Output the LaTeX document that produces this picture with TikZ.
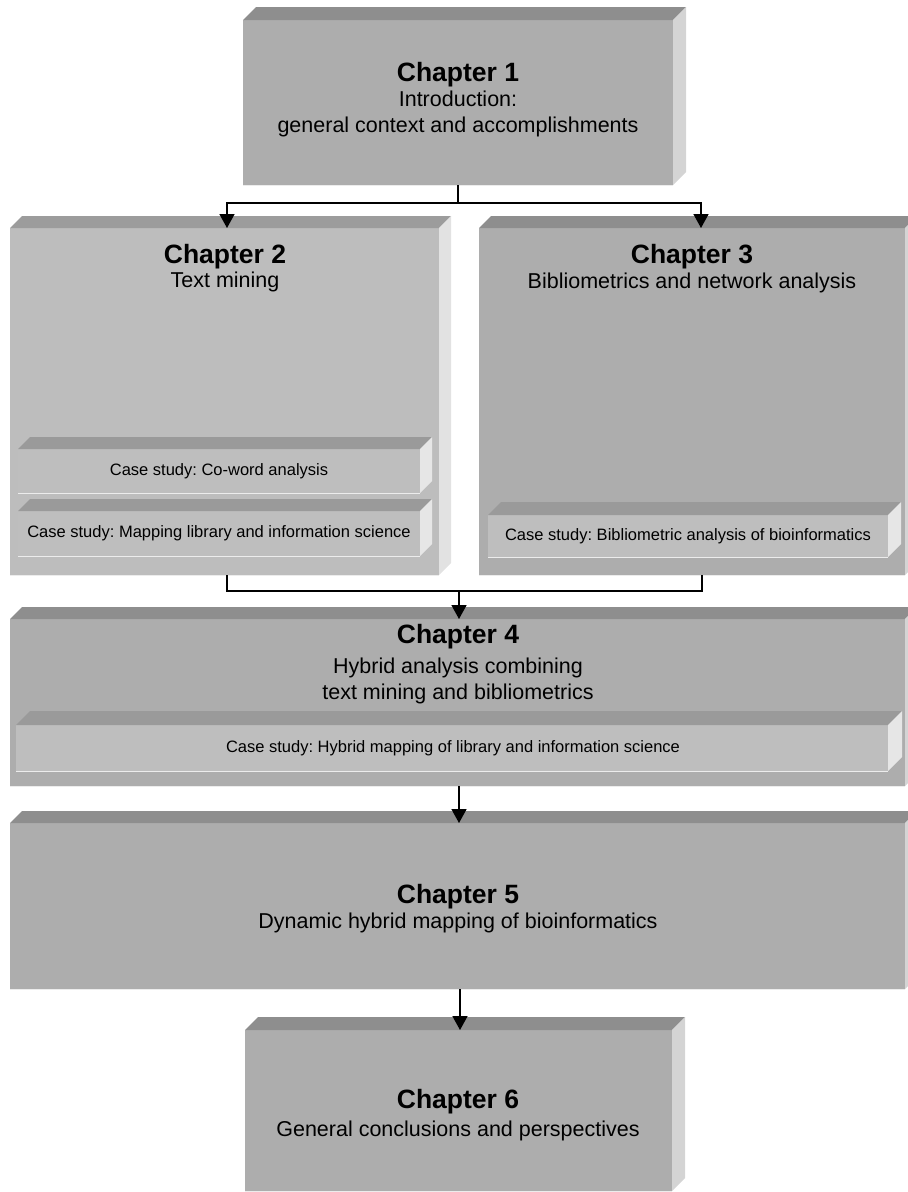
\documentclass[tikz,border=0pt]{standalone}
\usepackage{fontspec}
\setmainfont{Liberation Sans}
\usetikzlibrary{arrows.meta}
\frenchspacing

\tikzset{
  frontface/.style={fill=#1, draw=none, inner sep=0pt, outer sep=0pt, anchor=north west},
  link/.style={line width=1.6pt, draw=black},
  arr/.style={link, -{Triangle[width=15pt,length=14pt]}},
  title/.style={font=\fontsize{26.5}{30}\selectfont\bfseries, inner sep=0pt},
  sub/.style={font=\fontsize{21.5}{25.5}\selectfont, inner sep=0pt, align=center},
  case/.style={font=\fontsize{16.5}{20}\selectfont, inner sep=0pt},
  hilite/.style={draw=#1, line width=1.2pt},
}

% bevelled block: name, x, y, width, height, front, top, side, depth
\newcommand\cubebox[9]{%
  \node[frontface=#6, minimum width=#4pt, minimum height=#5pt] (#1) at (#2,#3) {};
  \fill[#7] (#1.north west) -- ++(#9,-#9) -- ([shift={(#9,-#9)}]#1.north east) -- (#1.north east) -- cycle;
  \fill[#8] (#1.north east) -- ++(#9,-#9) -- ([shift={(#9,-#9)}]#1.south east) -- (#1.south east) -- cycle;
  \draw[hilite=white!85!gray] ([yshift=-0.6pt]#1.south west) -- ([yshift=-0.6pt]#1.south east);
}

\definecolor{chfront}{HTML}{ADADAD}
\definecolor{chtop}{HTML}{8E8E8E}
\definecolor{chside}{HTML}{D4D4D4}
\definecolor{lfront}{HTML}{BDBDBD}
\definecolor{ltop}{HTML}{9C9C9C}
\definecolor{lside}{HTML}{E2E2E2}
\definecolor{csfront}{HTML}{BEBEBE}
\definecolor{cstop}{HTML}{9A9A9A}
\definecolor{csside}{HTML}{E6E6E6}

\begin{document}
\begin{tikzpicture}[x=1pt, y=-1pt]
  \useasboundingbox (0,0) rectangle (908,1192);
  \clip (0,0) rectangle (908,1192);

  % blocks
  \cubebox{ch1}{243}{20}{430}{165}{chfront}{chtop}{chside}{13}
  \cubebox{ch2}{10}{228}{429}{347}{lfront}{ltop}{lside}{12}
  \cubebox{ch3}{479}{228}{426}{347}{chfront}{chtop}{chside}{12}
  \cubebox{cs1}{18}{449}{402}{44}{csfront}{cstop}{csside}{12}
  \cubebox{cs2}{18}{511}{402}{45}{csfront}{cstop}{csside}{12}
  \cubebox{cs3}{488}{515}{400}{42}{csfront}{cstop}{csside}{13}
  \cubebox{ch4}{10}{619}{895}{167}{chfront}{chtop}{chside}{12}
  \cubebox{cs4}{16}{725}{872}{46}{csfront}{cstop}{csside}{14}
  \cubebox{ch5}{10}{823}{895}{166}{chfront}{chtop}{chside}{12}
  \cubebox{ch6}{245}{1030}{427}{161}{chfront}{chtop}{chside}{13}

  % labels
  \node[title] (t1) at (458,75) {Chapter 1};
  \node[sub] (s1) at (458,114) {Introduction:\\general context and accomplishments};
  \node[title] (t2) at (225,257) {Chapter 2};
  \node[sub] (s2) at (225,282) {Text mining};
  \node[title] (t3) at (692,257) {Chapter 3};
  \node[sub] (s3) at (692,283) {Bibliometrics and network analysis};
  \node[case] (c1) at (219,471) {Case study: Co-word analysis};
  \node[case] (c2) at (219,533) {Case study: Mapping library and information science};
  \node[case] (c3) at (688,536) {Case study: Bibliometric analysis of bioinformatics};
  \node[title] (t4) at (458,637) {Chapter 4};
  \node[sub] (s4) at (458,681) {Hybrid analysis combining\\text mining and bibliometrics};
  \node[case] (c4) at (453,748) {Case study: Hybrid mapping of library and information science};
  \node[title] (t5) at (458,897) {Chapter 5};
  \node[sub] (s5) at (458,923) {Dynamic hybrid mapping of bioinformatics};
  \node[title] (t6) at (458,1102) {Chapter 6};
  \node[sub] (s6) at (458,1131) {General conclusions and perspectives};

  % connectors
  \coordinate (j1) at (458,203);
  \coordinate (m2) at (459,591);
  \coordinate (m5) at (460,0);
  \draw[link] (ch1.south) -- (j1);
  \draw[arr] (j1) -| ([xshift=217pt]ch2.north west);
  \draw[arr] (j1) -| ([xshift=222pt]ch3.north west);
  \draw[link] ([xshift=217pt]ch2.south west) |- (m2) -| ([xshift=223pt]ch3.south west);
  \draw[arr] (m2) -- (m2 |- ch4.north);
  \draw[arr] (m2 |- ch4.south) -- (m2 |- ch5.north);
  \draw[arr] (m5 |- ch5.south) -- (m5 |- ch6.north);
\end{tikzpicture}
\end{document}
